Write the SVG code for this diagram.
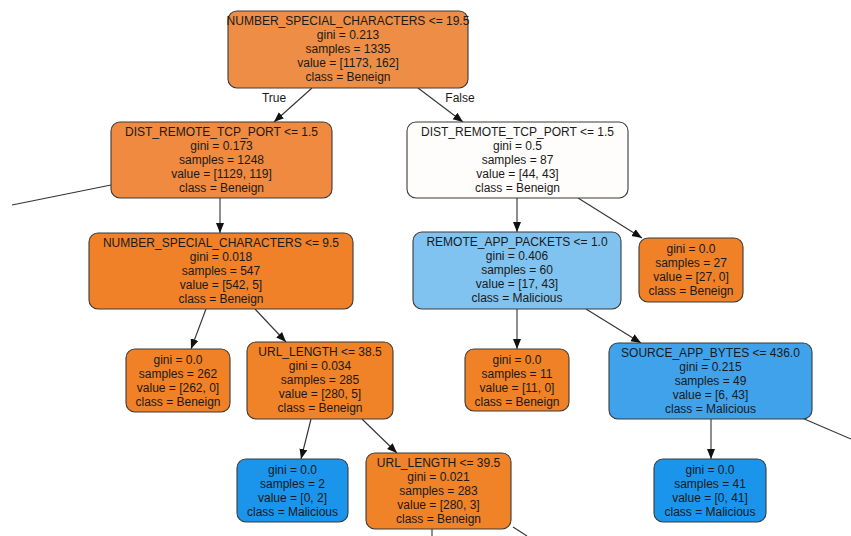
<svg xmlns="http://www.w3.org/2000/svg" width="851" height="536" viewBox="0 0 851 536">
<style>
  .node rect { stroke: #3a3a3a; stroke-width: 1.1; }
  .node text { font-family: "Liberation Sans", Arial, sans-serif; font-size: 12px; fill: #1a1a1a; text-anchor: middle; }
  .lbl { font-family: "Liberation Sans", Arial, sans-serif; font-size: 12px; fill: #1a1a1a; text-anchor: middle; }
  .edge { stroke: #333; stroke-width: 1.1; fill: none; }
  .arr { marker-end: url(#ah); }
</style>
<defs>
  <marker id="ah" markerUnits="userSpaceOnUse" markerWidth="10" markerHeight="10" viewBox="0 0 10 8" refX="10" refY="4" orient="auto">
    <path d="M0,0 L10,4 L0,8 z" fill="#111"/>
  </marker>
</defs>
<rect x="0" y="0" width="851" height="536" fill="#ffffff"/>

<g id="edges">
  <line class="edge arr" x1="312" y1="88" x2="274" y2="122"/>
  <line class="edge arr" x1="418" y1="88" x2="463" y2="122"/>
  <line class="edge" x1="111" y1="185" x2="12" y2="205"/>
  <line class="edge arr" x1="220" y1="198" x2="220" y2="233"/>
  <line class="edge arr" x1="206" y1="309" x2="191" y2="349"/>
  <line class="edge arr" x1="255" y1="309" x2="286" y2="342"/>
  <line class="edge arr" x1="311" y1="419" x2="301" y2="459"/>
  <line class="edge arr" x1="362" y1="419" x2="397" y2="453"/>
  <line class="edge" x1="432" y1="529" x2="432" y2="536"/>
  <line class="edge" x1="513" y1="527" x2="527" y2="536"/>
  <line class="edge arr" x1="517" y1="198" x2="517" y2="232"/>
  <line class="edge arr" x1="578" y1="198" x2="642" y2="238"/>
  <line class="edge arr" x1="517" y1="309" x2="517" y2="349"/>
  <line class="edge arr" x1="586" y1="309" x2="641" y2="343"/>
  <line class="edge arr" x1="711" y1="419" x2="711" y2="459"/>
  <line class="edge" x1="802" y1="418" x2="851" y2="439"/>
  <text class="lbl" x="274" y="102">True</text>
  <text class="lbl" x="460" y="102">False</text>
</g>

<g id="root" class="node">
  <rect x="228" y="11" width="240" height="77" rx="9" fill="#ee8d45"/>
  <text x="348" y="25">NUMBER_SPECIAL_CHARACTERS &lt;= 19.5</text>
  <text x="348" y="39">gini = 0.213</text>
  <text x="348" y="53">samples = 1335</text>
  <text x="348" y="67">value = [1173, 162]</text>
  <text x="348" y="81">class = Beneign</text>
</g>

<g id="n1" class="node">
  <rect x="111" y="122" width="221" height="76" rx="9" fill="#ef8a40"/>
  <text x="221.5" y="136">DIST_REMOTE_TCP_PORT &lt;= 1.5</text>
  <text x="221.5" y="150">gini = 0.173</text>
  <text x="221.5" y="164">samples = 1248</text>
  <text x="221.5" y="178">value = [1129, 119]</text>
  <text x="221.5" y="192">class = Beneign</text>
</g>

<g id="n2" class="node">
  <rect x="89" y="233" width="264" height="76" rx="9" fill="#f08128"/>
  <text x="221" y="247">NUMBER_SPECIAL_CHARACTERS &lt;= 9.5</text>
  <text x="221" y="261">gini = 0.018</text>
  <text x="221" y="275">samples = 547</text>
  <text x="221" y="289">value = [542, 5]</text>
  <text x="221" y="303">class = Beneign</text>
</g>

<g id="n3" class="node">
  <rect x="126" y="349" width="104" height="63" rx="9" fill="#f08126"/>
  <text x="178" y="364">gini = 0.0</text>
  <text x="178" y="378">samples = 262</text>
  <text x="178" y="392">value = [262, 0]</text>
  <text x="178" y="406">class = Beneign</text>
</g>

<g id="n4" class="node">
  <rect x="247" y="342" width="146" height="77" rx="9" fill="#f08228"/>
  <text x="320" y="356">URL_LENGTH &lt;= 38.5</text>
  <text x="320" y="370">gini = 0.034</text>
  <text x="320" y="384">samples = 285</text>
  <text x="320" y="398">value = [280, 5]</text>
  <text x="320" y="412">class = Beneign</text>
</g>

<g id="n5" class="node">
  <rect x="237" y="459" width="111" height="63" rx="9" fill="#1b95ec"/>
  <text x="292.5" y="474">gini = 0.0</text>
  <text x="292.5" y="488">samples = 2</text>
  <text x="292.5" y="502">value = [0, 2]</text>
  <text x="292.5" y="516">class = Malicious</text>
</g>

<g id="n6" class="node">
  <rect x="366" y="453" width="145" height="76" rx="9" fill="#f08228"/>
  <text x="438.5" y="467">URL_LENGTH &lt;= 39.5</text>
  <text x="438.5" y="481">gini = 0.021</text>
  <text x="438.5" y="495">samples = 283</text>
  <text x="438.5" y="509">value = [280, 3]</text>
  <text x="438.5" y="523">class = Beneign</text>
</g>

<g id="n7" class="node">
  <rect x="407" y="122" width="221" height="76" rx="9" fill="#fffdfb"/>
  <text x="517.5" y="136">DIST_REMOTE_TCP_PORT &lt;= 1.5</text>
  <text x="517.5" y="150">gini = 0.5</text>
  <text x="517.5" y="164">samples = 87</text>
  <text x="517.5" y="178">value = [44, 43]</text>
  <text x="517.5" y="192">class = Beneign</text>
</g>

<g id="n8" class="node">
  <rect x="413" y="232" width="208" height="77" rx="9" fill="#80c3f0"/>
  <text x="517" y="246">REMOTE_APP_PACKETS &lt;= 1.0</text>
  <text x="517" y="260">gini = 0.406</text>
  <text x="517" y="274">samples = 60</text>
  <text x="517" y="288">value = [17, 43]</text>
  <text x="517" y="302">class = Malicious</text>
</g>

<g id="n9" class="node">
  <rect x="639" y="238" width="104" height="64" rx="9" fill="#f08126"/>
  <text x="691" y="253">gini = 0.0</text>
  <text x="691" y="267">samples = 27</text>
  <text x="691" y="281">value = [27, 0]</text>
  <text x="691" y="295">class = Beneign</text>
</g>

<g id="n10" class="node">
  <rect x="465" y="349" width="104" height="62" rx="9" fill="#f08126"/>
  <text x="517" y="364">gini = 0.0</text>
  <text x="517" y="378">samples = 11</text>
  <text x="517" y="392">value = [11, 0]</text>
  <text x="517" y="406">class = Beneign</text>
</g>

<g id="n11" class="node">
  <rect x="609" y="343" width="203" height="76" rx="9" fill="#40a2ea"/>
  <text x="710.5" y="357">SOURCE_APP_BYTES &lt;= 436.0</text>
  <text x="710.5" y="371">gini = 0.215</text>
  <text x="710.5" y="385">samples = 49</text>
  <text x="710.5" y="399">value = [6, 43]</text>
  <text x="710.5" y="413">class = Malicious</text>
</g>

<g id="n12" class="node">
  <rect x="654" y="459" width="112" height="63" rx="9" fill="#1b95ec"/>
  <text x="710" y="474">gini = 0.0</text>
  <text x="710" y="488">samples = 41</text>
  <text x="710" y="502">value = [0, 41]</text>
  <text x="710" y="516">class = Malicious</text>
</g>
</svg>
